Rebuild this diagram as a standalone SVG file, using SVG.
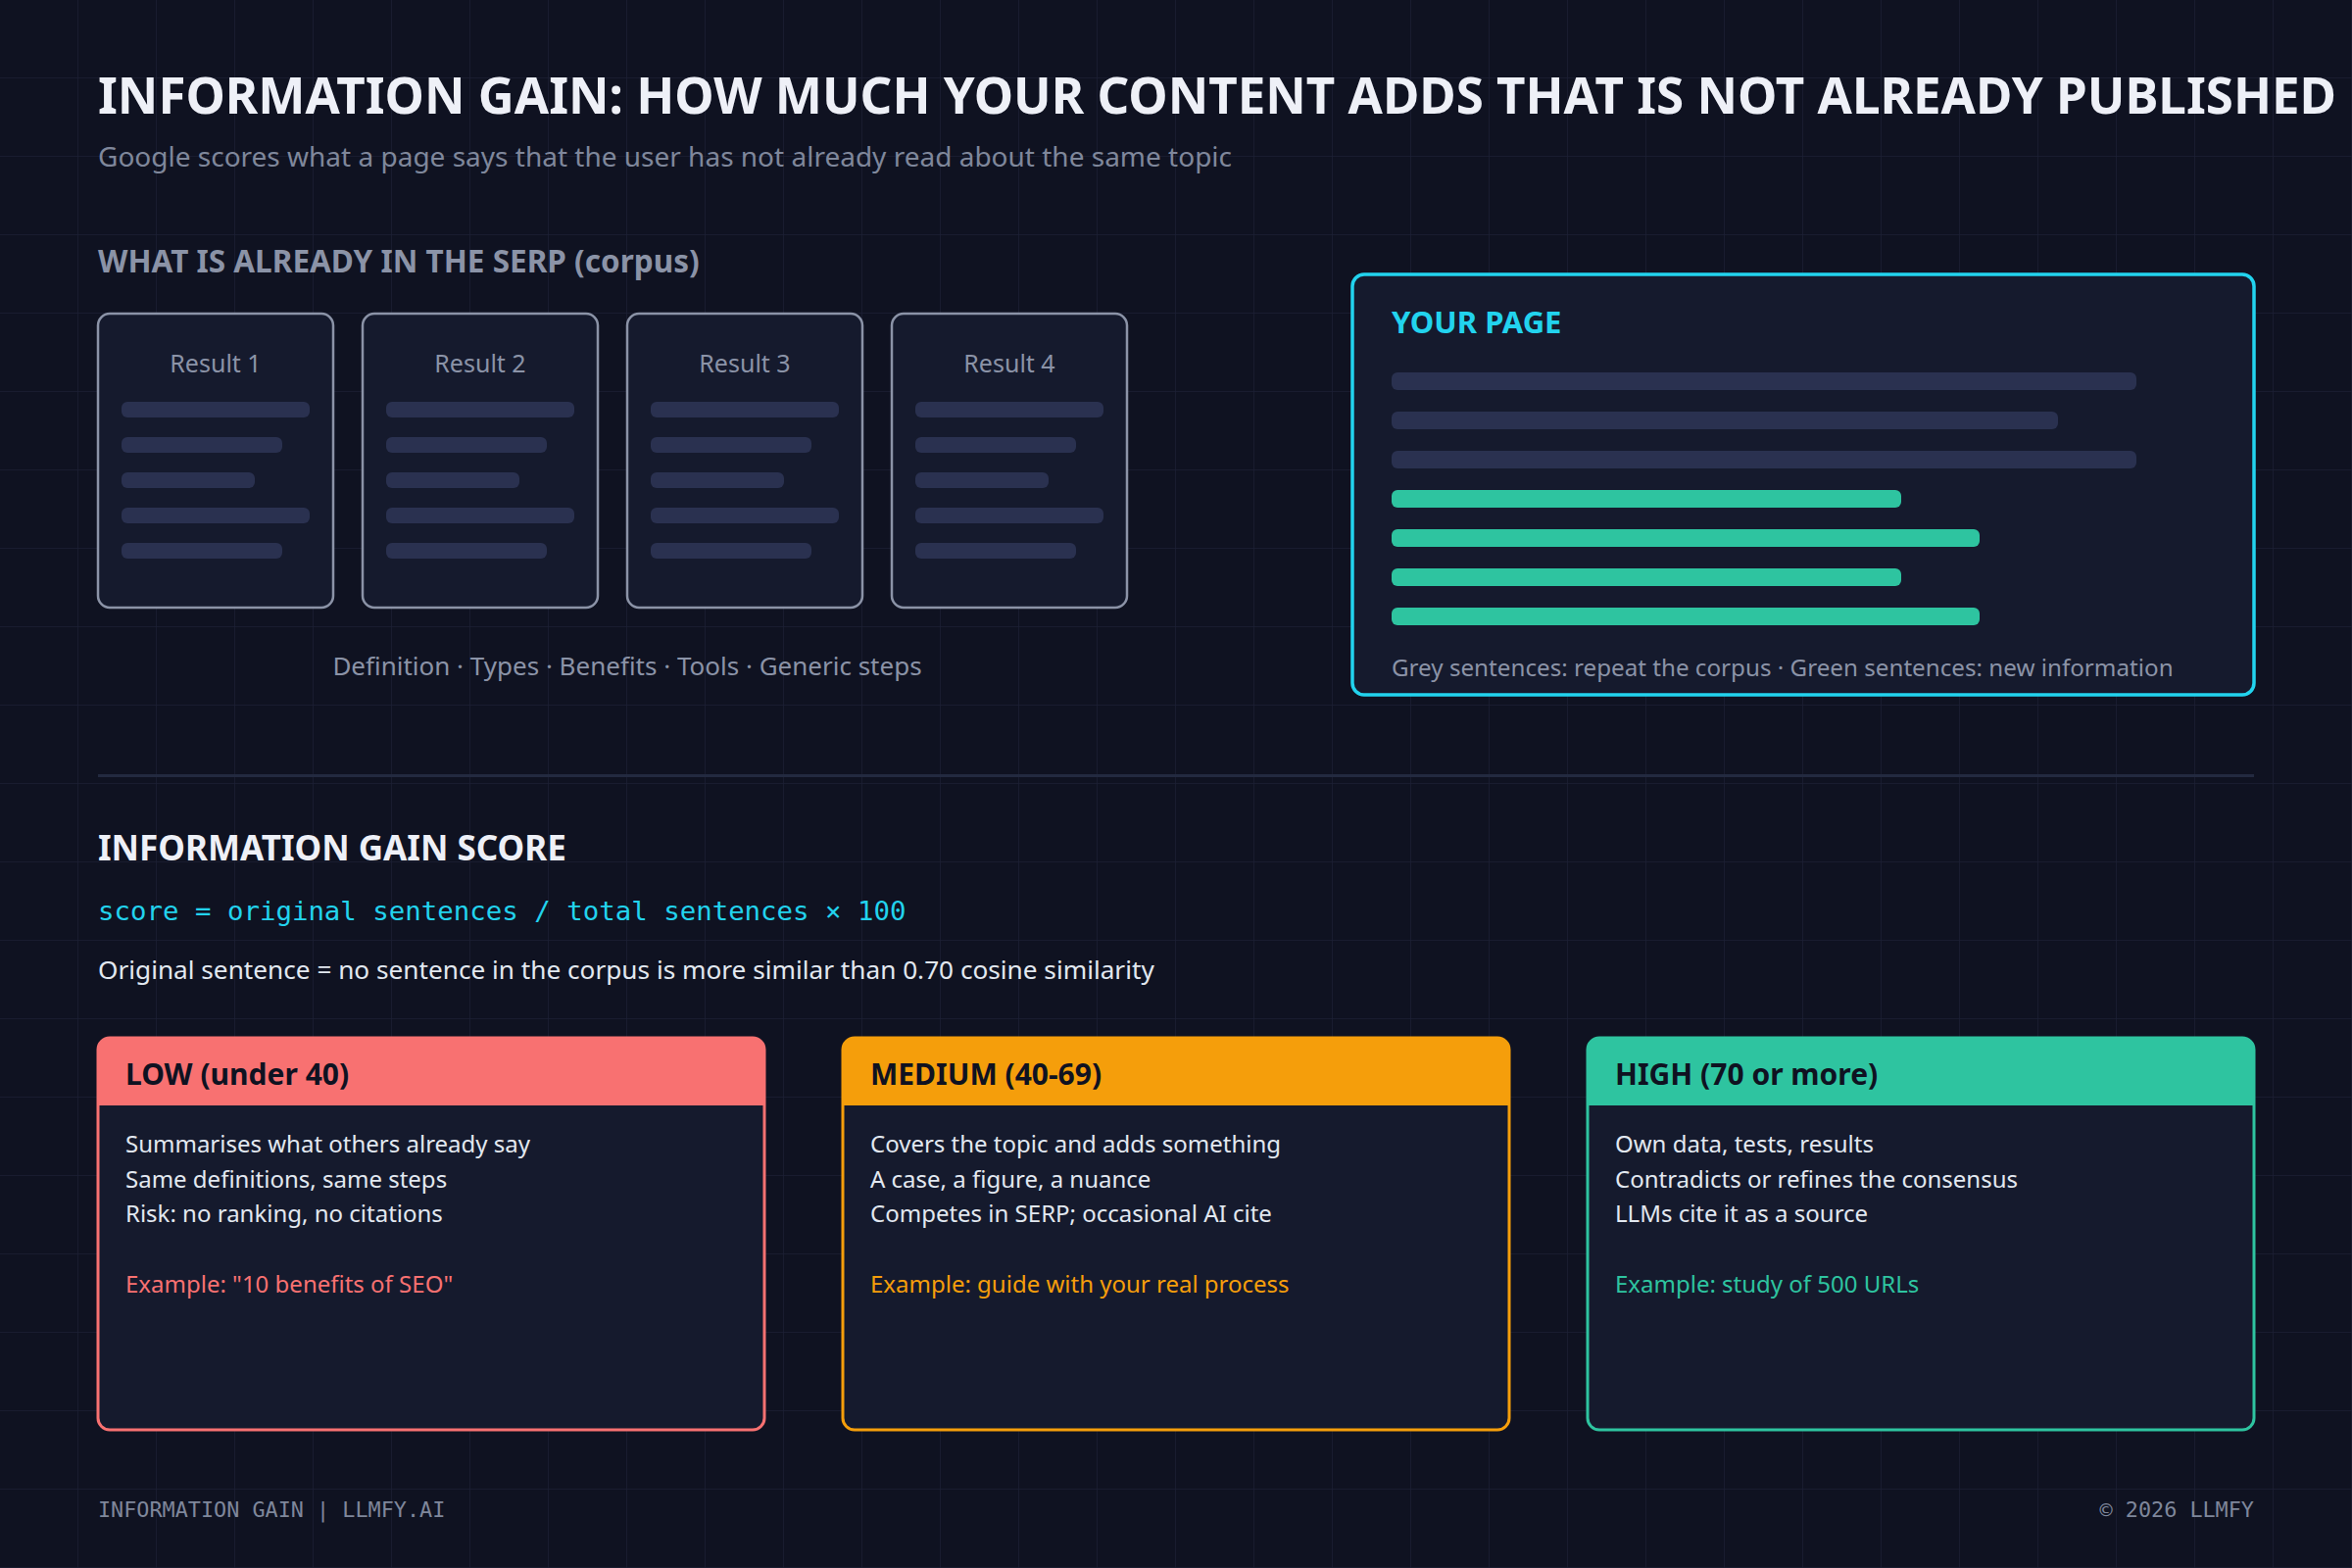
<svg xmlns="http://www.w3.org/2000/svg" width="2400" height="1600" viewBox="0 0 2400 1600">
<defs>
<pattern id="grid" width="80" height="80" patternUnits="userSpaceOnUse">
<path d="M80 0V80H0" fill="none" stroke="#1b2034" stroke-width="1.5"/>
</pattern>
<style>
text{font-family:"Noto Sans","Open Sans","Liberation Sans",sans-serif}
.mono{font-family:"DejaVu Sans Mono","Liberation Mono",monospace}
.card{fill:#151a2d;stroke:#8b93a7;stroke-width:2.5}
.ln{fill:#2a3150}
.gn{fill:#2ec4a0}
.rt{font-size:25px;fill:#8b93a7;text-anchor:middle}
.hd{font-size:30px;font-weight:700;fill:#0f1221}
.bd{font-size:24px;fill:#e2e8f0}
</style>
</defs>
<rect width="2400" height="1600" fill="#0f1221"/>
<rect width="2400" height="1600" fill="url(#grid)"/>
<text x="100" y="116" font-size="52" font-weight="700" fill="#eef0f7" textLength="2284" lengthAdjust="spacingAndGlyphs">INFORMATION GAIN: HOW MUCH YOUR CONTENT ADDS THAT IS NOT ALREADY PUBLISHED</text>
<text x="100" y="170" font-size="28" fill="#7f879b">Google scores what a page says that the user has not already read about the same topic</text>
<text x="100" y="278" font-size="31.5" font-weight="700" fill="#8b93a7">WHAT IS ALREADY IN THE SERP (corpus)</text>
<g id="result1"><rect class="card" x="100" y="320" width="240" height="300" rx="12"/><text class="rt" x="220" y="380">Result 1</text>
<rect class="ln" x="124" y="410" width="192" height="16" rx="6"/><rect class="ln" x="124" y="446" width="164" height="16" rx="6"/><rect class="ln" x="124" y="482" width="136" height="16" rx="6"/><rect class="ln" x="124" y="518" width="192" height="16" rx="6"/><rect class="ln" x="124" y="554" width="164" height="16" rx="6"/></g>
<g id="result2"><rect class="card" x="370" y="320" width="240" height="300" rx="12"/><text class="rt" x="490" y="380">Result 2</text>
<rect class="ln" x="394" y="410" width="192" height="16" rx="6"/><rect class="ln" x="394" y="446" width="164" height="16" rx="6"/><rect class="ln" x="394" y="482" width="136" height="16" rx="6"/><rect class="ln" x="394" y="518" width="192" height="16" rx="6"/><rect class="ln" x="394" y="554" width="164" height="16" rx="6"/></g>
<g id="result3"><rect class="card" x="640" y="320" width="240" height="300" rx="12"/><text class="rt" x="760" y="380">Result 3</text>
<rect class="ln" x="664" y="410" width="192" height="16" rx="6"/><rect class="ln" x="664" y="446" width="164" height="16" rx="6"/><rect class="ln" x="664" y="482" width="136" height="16" rx="6"/><rect class="ln" x="664" y="518" width="192" height="16" rx="6"/><rect class="ln" x="664" y="554" width="164" height="16" rx="6"/></g>
<g id="result4"><rect class="card" x="910" y="320" width="240" height="300" rx="12"/><text class="rt" x="1030" y="380">Result 4</text>
<rect class="ln" x="934" y="410" width="192" height="16" rx="6"/><rect class="ln" x="934" y="446" width="164" height="16" rx="6"/><rect class="ln" x="934" y="482" width="136" height="16" rx="6"/><rect class="ln" x="934" y="518" width="192" height="16" rx="6"/><rect class="ln" x="934" y="554" width="164" height="16" rx="6"/></g>
<text x="640" y="689" font-size="26" fill="#8b93a7" text-anchor="middle">Definition · Types · Benefits · Tools · Generic steps</text>
<g id="your-page">
<rect x="1380" y="280" width="920" height="429" rx="12" fill="#151a2d" stroke="#22d3ee" stroke-width="3.5"/>
<text x="1420" y="340" font-size="31" font-weight="700" fill="#22d3ee">YOUR PAGE</text>
<rect class="ln" x="1420" y="380" width="760" height="18" rx="6"/>
<rect class="ln" x="1420" y="420" width="680" height="18" rx="6"/>
<rect class="ln" x="1420" y="460" width="760" height="18" rx="6"/>
<rect class="gn" x="1420" y="500" width="520" height="18" rx="6"/>
<rect class="gn" x="1420" y="540" width="600" height="18" rx="6"/>
<rect class="gn" x="1420" y="580" width="520" height="18" rx="6"/>
<rect class="gn" x="1420" y="620" width="600" height="18" rx="6"/>
<text x="1420" y="690" font-size="24.2" fill="#8b93a7">Grey sentences: repeat the corpus · Green sentences: new information</text>
</g>
<rect x="100" y="790" width="2200" height="3" fill="#232a40"/>
<text x="100" y="878" font-size="35" font-weight="700" fill="#eef0f7">INFORMATION GAIN SCORE</text>
<text class="mono" x="100" y="939" font-size="27.4" fill="#22d3ee">score = original sentences / total sentences × 100</text>
<text x="100" y="999" font-size="26.2" fill="#e2e8f0">Original sentence = no sentence in the corpus is more similar than 0.70 cosine similarity</text>
<g id="low">
<rect x="100" y="1059" width="680" height="400" rx="12" fill="#151a2d" stroke="#f87171" stroke-width="3"/>
<path d="M100 1128V1071a12 12 0 0 1 12-12H768a12 12 0 0 1 12 12V1128Z" fill="#f87171"/>
<text class="hd" x="128" y="1107">LOW (under 40)</text>
<text class="bd" x="128" y="1176">Summarises what others already say</text>
<text class="bd" x="128" y="1212">Same definitions, same steps</text>
<text class="bd" x="128" y="1247">Risk: no ranking, no citations</text>
<text class="bd" x="128" y="1319" style="fill:#f87171">Example: "10 benefits of SEO"</text>
</g>
<g id="medium">
<rect x="860" y="1059" width="680" height="400" rx="12" fill="#151a2d" stroke="#f59e0b" stroke-width="3"/>
<path d="M860 1128V1071a12 12 0 0 1 12-12H1528a12 12 0 0 1 12 12V1128Z" fill="#f59e0b"/>
<text class="hd" x="888" y="1107">MEDIUM (40-69)</text>
<text class="bd" x="888" y="1176">Covers the topic and adds something</text>
<text class="bd" x="888" y="1212">A case, a figure, a nuance</text>
<text class="bd" x="888" y="1247">Competes in SERP; occasional AI cite</text>
<text class="bd" x="888" y="1319" style="fill:#f59e0b">Example: guide with your real process</text>
</g>
<g id="high">
<rect x="1620" y="1059" width="680" height="400" rx="12" fill="#151a2d" stroke="#2ec4a0" stroke-width="3"/>
<path d="M1620 1128V1071a12 12 0 0 1 12-12H2288a12 12 0 0 1 12 12V1128Z" fill="#2ec4a0"/>
<text class="hd" x="1648" y="1107">HIGH (70 or more)</text>
<text class="bd" x="1648" y="1176">Own data, tests, results</text>
<text class="bd" x="1648" y="1212">Contradicts or refines the consensus</text>
<text class="bd" x="1648" y="1247">LLMs cite it as a source</text>
<text class="bd" x="1648" y="1319" style="fill:#2ec4a0">Example: study of 500 URLs</text>
</g>
<text class="mono" x="100" y="1548" font-size="21.8" fill="#7f879b">INFORMATION GAIN | LLMFY.AI</text>
<text class="mono" x="2300" y="1548" font-size="21.8" fill="#7f879b" text-anchor="end">© 2026 LLMFY</text>
</svg>
